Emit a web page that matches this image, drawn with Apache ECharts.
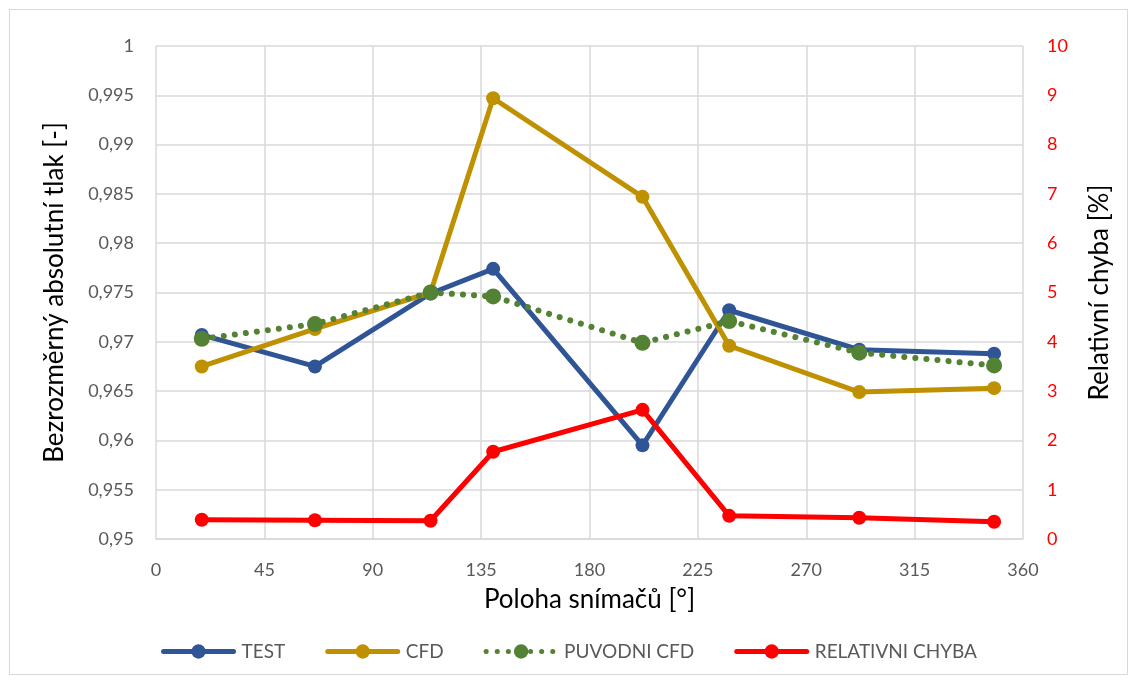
<!DOCTYPE html>
<html><head><meta charset="utf-8">
<script src="https://cdn.jsdelivr.net/npm/echarts@6/dist/echarts.min.js"></script>
<style>html,body{margin:0;padding:0;background:#fff}#c{width:1138px;height:684px}
#frame{position:absolute;left:9px;top:9px;width:1119px;height:666px;border:1px solid #d9d9d9;pointer-events:none;box-sizing:border-box}</style>
</head><body><div id="c"></div><div id="frame"></div>
<script>
const positions = [19, 66, 114, 140, 202, 238, 292, 348];
const testValues = [0.9707, 0.9675, 0.9749, 0.9774, 0.9595, 0.9732, 0.9692, 0.9688];
const cfdValues = [0.9675, 0.9713, 0.9750, 0.9947, 0.9847, 0.9696, 0.9649, 0.9653];
const puvodniValues = [0.9703, 0.9718, 0.9750, 0.9746, 0.9699, 0.9721, 0.9689, 0.9676];
const chybaValues = [0.39, 0.38, 0.37, 1.77, 2.62, 0.47, 0.43, 0.35];
const seriesNames = ['TEST', 'CFD', 'PUVODNI CFD', 'RELATIVNI CHYBA'];

const pair = (vals) => positions.map((x, i) => [x, vals[i]]);
const font = 'Lato, "Open Sans", sans-serif';
const chart = echarts.init(document.getElementById('c'));
const mk = (name, vals, color, yIdx, dotted) => ({
  name, type: 'line', yAxisIndex: yIdx, data: pair(vals),
  symbol: 'circle', symbolSize: dotted ? 16 : 14,
  lineStyle: { color, width: dotted ? 6 : 5, type: dotted ? [0.1, 11] : 'solid', cap: 'round' },
  itemStyle: { color }, emphasis: { disabled: true }, z: 2
});
chart.setOption({
  animation: false,
  textStyle: { fontFamily: font },
  grid: { left: 156, right: 115, top: 46, bottom: 145 },
  xAxis: {
    type: 'value', min: 0, max: 360, interval: 45,
    name: 'Poloha snímačů [°]', nameLocation: 'middle', nameGap: 48,
    nameTextStyle: { fontSize: 26, color: '#000', fontFamily: font },
    axisLine: { show: true, lineStyle: { color: '#d9d9d9', width: 1.5 } },
    axisTick: { show: false },
    axisLabel: { color: '#595959', fontSize: 18, margin: 22 },
    splitLine: { show: true, lineStyle: { color: '#d9d9d9', width: 1.5 } }
  },
  yAxis: [{
    type: 'value', min: 0.95, max: 1, interval: 0.005,
    name: 'Bezrozměrný absolutní tlak [-]', nameLocation: 'middle', nameGap: 88, nameRotate: 90,
    nameTextStyle: { fontSize: 26, color: '#000', fontFamily: font },
    axisLine: { show: false }, axisTick: { show: false },
    axisLabel: { color: '#595959', fontSize: 18, margin: 22,
      formatter: v => String(Number(v.toFixed(3))).replace('.', ',') },
    splitLine: { show: true, lineStyle: { color: '#d9d9d9', width: 1.5 } }
  }, {
    type: 'value', min: 0, max: 10, interval: 1, position: 'right',
    name: 'Relativní chyba [%]', nameLocation: 'middle', nameGap: 64, nameRotate: 90,
    nameTextStyle: { fontSize: 26, color: '#000', fontFamily: font },
    axisLine: { show: false }, axisTick: { show: false },
    axisLabel: { color: '#ff0000', fontSize: 18, margin: 24 },
    splitLine: { show: false }
  }],
  legend: {
    bottom: 18, left: 'center', itemWidth: 70, itemHeight: 18, itemGap: 40,
    textStyle: { color: '#595959', fontSize: 19, fontFamily: font, padding: [0, 0, 0, 3] },
    lineStyle: { width: 5 },
    data: seriesNames
  },
  series: [
    mk(seriesNames[0], testValues, '#2f5597', 0, false),
    mk(seriesNames[1], cfdValues, '#bf9000', 0, false),
    mk(seriesNames[2], puvodniValues, '#548235', 0, true),
    mk(seriesNames[3], chybaValues, '#ff0000', 1, false)
  ]
});
</script></body></html>
